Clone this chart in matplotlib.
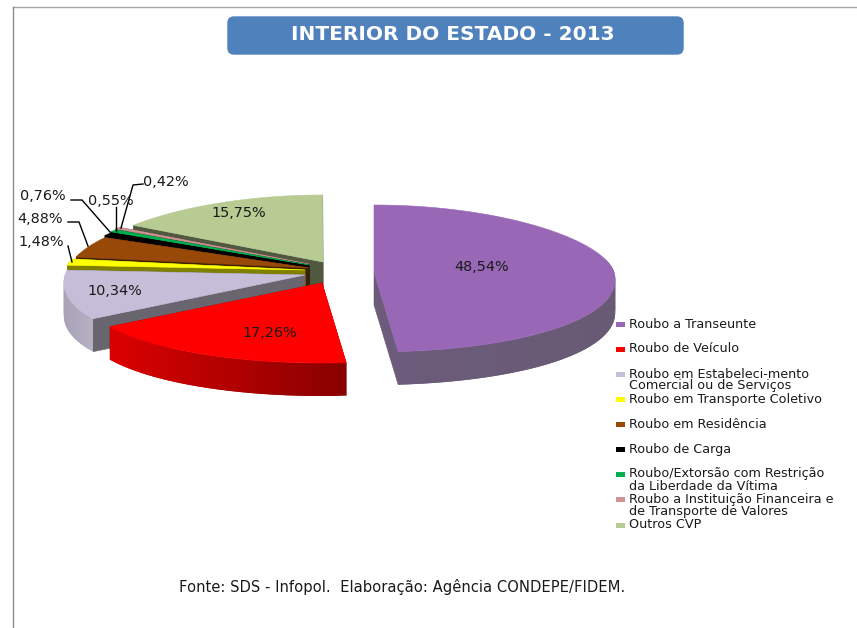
import numpy as np
import matplotlib
matplotlib.use("Agg")
import matplotlib.pyplot as plt
from matplotlib.patches import FancyBboxPatch, Rectangle
from matplotlib.colors import to_rgb

categories = ["Roubo a Transeunte", "Roubo de Veículo",
              "Roubo em Estabeleci-mento\nComercial ou de Serviços",
              "Roubo em Transporte Coletivo", "Roubo em Residência", "Roubo de Carga",
              "Roubo/Extorsão com Restrição\nda Liberdade da Vítima",
              "Roubo a Instituição Financeira e\nde Transporte de Valores", "Outros CVP"]
values = [48.54, 17.26, 10.34, 1.48, 4.88, 0.76, 0.55, 0.42, 15.75]
labels = ["48,54%", "17,26%", "10,34%", "1,48%", "4,88%", "0,76%", "0,55%", "0,42%", "15,75%"]
title = "INTERIOR DO ESTADO - 2013"
source = "Fonte: SDS - Infopol.  Elaboração: Agência CONDEPE/FIDEM."

top_colors = ["#9868B6", "#FF0000", "#C6BDD9", "#FFFF00", "#984807", "#000000", "#00B050", "#D09393", "#B7CB93"]
cut_colors = ["#6C5B7B", "#800000", "#69656F", "#7F7F00", "#3F2003", "#000000", "#005828", "#6A4A4A", "#50593F"]
wall_left = ["#6C5B7B", "#DC0000", "#A9A3B8", "#7F7F00", "#5A2A04", "#000000", "#005828", "#6A4A4A", "#50593F"]
wall_right = ["#685A74", "#880000", "#B5B0C4", "#7F7F00", "#5A2A04", "#000000", "#005828", "#6A4A4A", "#50593F"]

# apex of every exploded slice, in pixels
apex = [(374, 272), (322, 283), (305, 275), (305, 270), (309, 268),
        (309, 266), (309, 265), (309, 264), (323, 262)]
RX = 240
RY_FAR = 67
RY_NEAR = 80
DEPTH = 33
draw_order = [8, 7, 6, 5, 4, 3, 2, 1, 0]

inside_pos = {0: (482, 267), 1: (270, 333), 2: (115, 291), 8: (239, 213)}
outside_pos = {3: (18, 242), 4: (17, 219), 5: (20, 196), 6: (88, 201), 7: (143, 182)}
leaders = {3: [(68, 246), (72, 262)],
           4: [(68, 222), (79, 222), (88, 246)],
           5: [(71, 200), (82, 200), (110, 232)],
           6: [(116, 207), (116, 231)],
           7: [(143, 184), (133, 185), (121, 228)]}
legend_y = [324, 349, 374, 399, 424, 449, 474, 499, 525]

FONT = "DejaVu Sans"


def arc(i, t):
    c = np.cos(np.radians(t))
    s = np.sin(np.radians(t))
    x = apex[i][0] + RX * s * (1 - 0.1 * c)
    y = apex[i][1] - np.where(c > 0, RY_FAR, RY_NEAR) * c
    return x, y


def lerp(a, b, f):
    a = np.array(to_rgb(a))
    b = np.array(to_rgb(b))
    return tuple(a + (b - a) * f)


def fill(ax, xs, ys, color, lw=0.4):
    ax.fill(xs, ys, facecolor=color, edgecolor=color if lw else "none", linewidth=lw)


fig = plt.figure(figsize=(8.57, 6.28), dpi=100)
ax = fig.add_axes([0, 0, 1, 1])
ax.set_xlim(0, 857)
ax.set_ylim(628, 0)
ax.axis("off")

# page border
ax.plot([13, 857], [7, 7], color="#A6A6A6", lw=1.0)
ax.plot([13, 13], [7, 628], color="#8C8C8C", lw=1.0)

# title box
ax.add_patch(FancyBboxPatch((228, 17), 455, 37, boxstyle="round,pad=0,rounding_size=6",
                            facecolor="#4F81BD", edgecolor="#4F81BD", lw=1))
ax.text(453, 34, title, color="white", fontsize=14.5, fontweight="bold", family=FONT, ha="center", va="center")

# slices, back to front
edges = np.concatenate([[0], np.cumsum(values)]) * 3.6
for i in draw_order:
    t0, t1 = edges[i], edges[i + 1]
    ax0, ay0 = apex[i]
    for t in (t0, t1):
        x, y = arc(i, t)
        fill(ax, [ax0, x, x, ax0], [ay0, y, y + DEPTH, ay0 + DEPTH], cut_colors[i])
    ts = np.linspace(t0, t1, max(int((t1 - t0) / 1.5), 2) + 1)
    xs, ys = arc(i, ts)
    span = max(xs.max() - xs.min(), 1)
    # each wall strip overlaps the next one so no seams show
    for k in range(len(ts) - 1):
        if np.cos(np.radians((ts[k] + ts[k + 1]) / 2)) > 0.2 and i != 3:
            continue
        j = min(k + 2, len(ts) - 1)
        f = ((xs[k] + xs[k + 1]) / 2 - xs.min()) / span
        sub_x = xs[k:j + 1]
        sub_y = ys[k:j + 1]
        fill(ax, np.concatenate([sub_x, sub_x[::-1]]), np.concatenate([sub_y, sub_y[::-1] + DEPTH]),
             lerp(wall_left[i], wall_right[i], f), lw=0)
    fill(ax, np.concatenate([[ax0], xs]), np.concatenate([[ay0], ys]), top_colors[i])

for i, (x, y) in inside_pos.items():
    ax.text(x, y, labels[i], fontsize=10.4, family=FONT, color="#1A1A1A", ha="center", va="center")
for i, (x, y) in outside_pos.items():
    ax.text(x, y, labels[i], fontsize=10.4, family=FONT, color="#1A1A1A", ha="left", va="center")
    pts = np.array(leaders[i])
    ax.plot(pts[:, 0], pts[:, 1], color="black", lw=1.0)

# legend
for i, y in enumerate(legend_y):
    ax.add_patch(Rectangle((616, y - 2.5), 9, 5, facecolor=top_colors[i], edgecolor="none"))
    lines = categories[i].split("\n")
    for n, line in enumerate(lines):
        ax.text(629, y + n * 12, line, fontsize=9.2, family=FONT, color="#1A1A1A", ha="left", va="center", clip_on=True)

ax.text(402, 587, source, fontsize=10.6, family=FONT, color="#1A1A1A", ha="center", va="center")

fig.savefig("out.png", dpi=100)
